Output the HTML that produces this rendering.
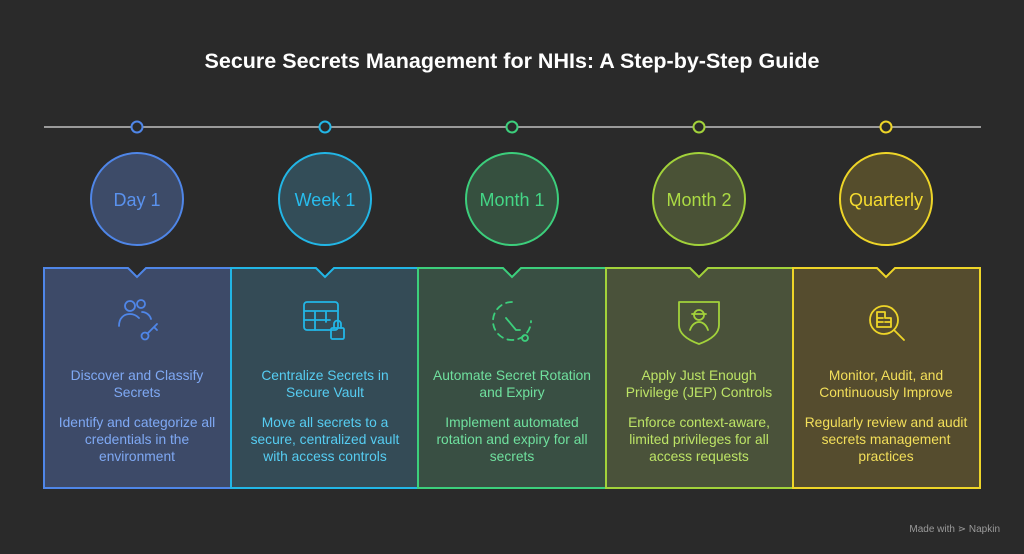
<!DOCTYPE html>
<html><head><meta charset="utf-8"><style>
html,body{margin:0;padding:0;background:#2a2a2a;}
svg{display:block;font-family:"Liberation Sans",Arial,sans-serif;}
</style></head><body>
<svg width="1024" height="554" viewBox="0 0 1024 554" xmlns="http://www.w3.org/2000/svg">
<rect width="1024" height="554" fill="#2a2a2a"/>
<text x="512" y="68" text-anchor="middle" fill="#ffffff" font-size="21.5" font-weight="bold">Secure Secrets Management for NHIs: A Step-by-Step Guide</text>
<line x1="44" y1="127" x2="981" y2="127" stroke="#9a9a9a" stroke-width="2"/>
<g stroke-width="2" fill="#2a2a2a">
<circle cx="137" cy="127" r="5.5" stroke="#4f86e8"/>
<circle cx="325" cy="127" r="5.5" stroke="#22b6e6"/>
<circle cx="512" cy="127" r="5.5" stroke="#3ccf7c"/>
<circle cx="699" cy="127" r="5.5" stroke="#a2d23a"/>
<circle cx="886" cy="127" r="5.5" stroke="#eed528"/>
</g>
<g stroke-width="2" font-size="18" text-anchor="middle">
<circle cx="137" cy="199" r="46" fill="#3d4b68" stroke="#4f86e8"/>
<text x="137" y="206" fill="#5a92ee" stroke="none">Day 1</text>
<circle cx="325" cy="199" r="46" fill="#334d58" stroke="#22b6e6"/>
<text x="325" y="206" fill="#28bdee" stroke="none">Week 1</text>
<circle cx="512" cy="199" r="46" fill="#36503f" stroke="#3ccf7c"/>
<text x="512" y="206" fill="#44d686" stroke="none">Month 1</text>
<circle cx="699" cy="199" r="46" fill="#4a5236" stroke="#a2d23a"/>
<text x="699" y="206" fill="#acdb44" stroke="none">Month 2</text>
<circle cx="886" cy="199" r="46" fill="#554d2c" stroke="#eed528"/>
<text x="886" y="206" fill="#f6dc30" stroke="none">Quarterly</text>
</g>
<g stroke-width="2">
<path d="M44,268 H128 L137,277 L146,268 H231 V488 H44 Z" fill="#3d4a68" stroke="#4f86e8"/>
<path d="M231,268 H316 L325,277 L334,268 H418 V488 H231 Z" fill="#344b56" stroke="#22b6e6"/>
<path d="M418,268 H503 L512,277 L521,268 H606 V488 H418 Z" fill="#394f43" stroke="#3ccf7c"/>
<path d="M606,268 H690 L699,277 L708,268 H793 V488 H606 Z" fill="#4a523a" stroke="#a2d23a"/>
<path d="M793,268 H877 L886,277 L895,268 H980 V488 H793 Z" fill="#554c2e" stroke="#eed528"/>
</g>
<g fill="none" stroke-width="1.8" stroke-linecap="round" stroke-linejoin="round">
<g stroke="#4f86e8">
<circle cx="130" cy="306" r="5"/><path d="M119,326 c0,-8 5,-12 11,-12 c4,0 7,2 9,4"/>
<circle cx="141" cy="304" r="4"/><path d="M142,312 c4,0 8,3 9,7"/>
<circle cx="145" cy="336" r="3.5"/><path d="M148,333 L157,324 M154,327 l3,3"/>
</g>
<g stroke="#22b6e6">
<rect x="304" y="302" width="34" height="28" rx="3"/><path d="M304,311 H338 M304,320 H330 M315,311 V330 M326,311 V322"/>
<rect x="331" y="328" width="13" height="11" rx="1.5"/><path d="M334,328 v-4 a3.5,3.5 0 0 1 7,0 v4"/>
</g>
<g stroke="#3ccf7c">
<path d="M512,302 a19,19 0 1 0 19,19" stroke-dasharray="6 5"/>
<path d="M506,318 L516,330 L520,330"/><circle cx="525" cy="338" r="3"/>
</g>
<g stroke="#a2d23a">
<path d="M679,302 H719 V325 C719,334 710,340 699,344 C688,340 679,334 679,325 Z"/>
<circle cx="699" cy="315" r="5"/><path d="M692,314 H706"/><path d="M690,330 c2,-6 6,-8 9,-8 c3,0 7,2 9,8"/>
</g>
<g stroke="#eed528">
<circle cx="884" cy="320" r="14"/><path d="M894,330 L904,340"/>
<path d="M877,312 V327 H891 V318 H885 V312 Z M877,318 H883 M877,322 H883 M885,322 H891"/>
</g>
</g>
<g font-size="13.8" text-anchor="middle">
<g fill="#7fa9f4"><text x="137" y="380">Discover and Classify</text><text x="137" y="397">Secrets</text>
<text x="137" y="427">Identify and categorize all</text><text x="137" y="444">credentials in the</text><text x="137" y="461">environment</text></g>
<g fill="#56cdf2"><text x="325" y="380">Centralize Secrets in</text><text x="325" y="397">Secure Vault</text>
<text x="325" y="427">Move all secrets to a</text><text x="325" y="444">secure, centralized vault</text><text x="325" y="461">with access controls</text></g>
<g fill="#6fe09e"><text x="512" y="380">Automate Secret Rotation</text><text x="512" y="397">and Expiry</text>
<text x="512" y="427">Implement automated</text><text x="512" y="444">rotation and expiry for all</text><text x="512" y="461">secrets</text></g>
<g fill="#bde466"><text x="699" y="380">Apply Just Enough</text><text x="699" y="397">Privilege (JEP) Controls</text>
<text x="699" y="427">Enforce context-aware,</text><text x="699" y="444">limited privileges for all</text><text x="699" y="461">access requests</text></g>
<g fill="#f3df5a"><text x="886" y="380">Monitor, Audit, and</text><text x="886" y="397">Continuously Improve</text>
<text x="886" y="427">Regularly review and audit</text><text x="886" y="444">secrets management</text><text x="886" y="461">practices</text></g>
</g>
<text x="1000" y="532" text-anchor="end" fill="#9a9a9a" font-size="10">Made with  ⋗ Napkin</text>
</svg>
</body></html>
